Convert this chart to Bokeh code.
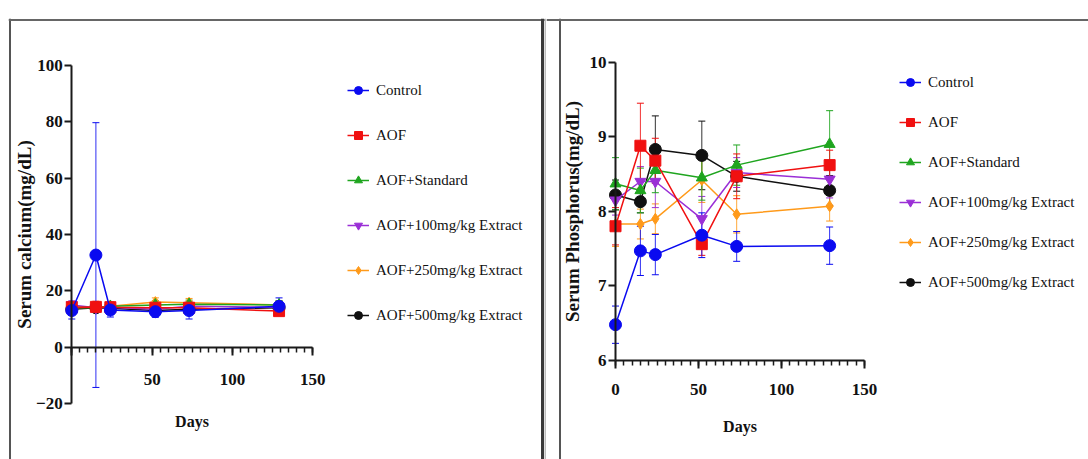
from bokeh.plotting import figure
from bokeh.models import (Range1d, FixedTicker, Legend, LegendItem, Whisker,
                          TeeHead, ColumnDataSource, Span)
from bokeh.layouts import row
from bokeh.embed import file_html
from bokeh.resources import INLINE

# ---------------- data ----------------
days = [0, 15, 24, 52, 73, 129]
series_names = ["Control", "AOF", "AOF+Standard", "AOF+100mg/kg Extract",
                "AOF+250mg/kg Extract", "AOF+500mg/kg Extract"]

# Serum calcium (mg/dL)
ca_control = [13.0, 32.7, 13.2, 12.6, 13.0, 14.5]
ca_aof = [14.2, 14.3, 14.2, 14.0, 14.0, 12.8]
ca_std = [14.2, 14.0, 14.5, 15.0, 15.2, 15.0]
ca_100 = [15.0, 14.0, 14.2, 13.5, 14.5, 14.2]
ca_250 = [14.0, 14.2, 14.5, 16.0, 15.8, 15.0]
ca_500 = [13.5, 14.0, 13.8, 13.0, 13.5, 14.0]
ca_control_err = [3.0, 47.0, 2.5, 2.0, 3.0, 3.0]
ca_aof_err = [1.5, 2.0, 1.5, 1.5, 1.5, 1.5]
ca_std_err = [1.5, 1.5, 1.5, 1.5, 1.5, 1.5]
ca_100_err = [1.5, 1.5, 1.5, 1.5, 1.5, 1.5]
ca_250_err = [1.5, 1.5, 1.5, 1.5, 1.5, 1.5]
ca_500_err = [1.5, 1.5, 1.5, 1.5, 1.5, 1.5]

# Serum phosphorus (mg/dL)
ph_control = [6.48, 7.47, 7.42, 7.68, 7.53, 7.54]
ph_aof = [7.80, 8.88, 8.68, 7.56, 8.47, 8.62]
ph_std = [8.37, 8.28, 8.55, 8.45, 8.62, 8.90]
ph_100 = [8.15, 8.40, 8.40, 7.90, 8.52, 8.43]
ph_250 = [7.83, 7.83, 7.90, 8.42, 7.96, 8.07]
ph_500 = [8.22, 8.13, 8.83, 8.75, 8.47, 8.28]
ph_control_err = [0.25, 0.33, 0.27, 0.30, 0.20, 0.25]
ph_aof_err = [0.25, 0.57, 0.30, 0.15, 0.30, 0.20]
ph_std_err = [0.35, 0.30, 0.30, 0.30, 0.27, 0.45]
ph_100_err = [0.20, 0.20, 0.35, 0.30, 0.20, 0.25]
ph_250_err = [0.30, 0.20, 0.20, 0.30, 0.25, 0.20]
ph_500_err = [0.20, 0.15, 0.45, 0.46, 0.20, 0.20]

colors = ["#0a0af0", "#f01010", "#1fa51f", "#9a2fd6", "#ff9a1a", "#101010"]
markers = ["circle", "square", "triangle", "inverted_triangle", "diamond", "circle"]
msizes = [12, 11, 11, 11, 11, 12]

SERIF = "Liberation Serif"


def panel(width, frame_left, frame_top, x0px, x150px, ylo, yhi, ylo_px, yhi_px,
          values, errors, ylabel, yticks, xlabel_zero, legend_pos, legend_spacing,
          border_left_px, border_top_px, border_right_px=None, sep_px=None,
          xaxis_at=0, xlab_standoff=14, xaxlab_standoff=22, ylab_standoff=4):
    H = 459
    sx = (x150px - x0px) / 150.0
    xs = (frame_left - x0px) / sx
    xe = (width - x0px) / sx
    sy = (ylo_px - yhi_px) / (yhi - ylo)
    ye = yhi + (yhi_px - frame_top) / sy
    ys = ylo - (H - ylo_px) / sy

    p = figure(width=width, height=H, output_backend="svg", toolbar_location=None,
               x_range=Range1d(xs, xe), y_range=Range1d(ys, ye),
               min_border_left=frame_left, min_border_right=0,
               min_border_top=frame_top, min_border_bottom=0)
    p.outline_line_color = None
    p.xgrid.visible = False
    p.ygrid.visible = False
    p.background_fill_color = "white"
    p.border_fill_color = "white"

    # axes
    xa = p.xaxis[0]
    ya = p.yaxis[0]
    xa.fixed_location = xaxis_at
    ya.fixed_location = 0
    xa.bounds = (0, 150)
    ya.bounds = (yticks[0], yticks[-1])
    xa.ticker = FixedTicker(ticks=[0, 50, 100, 150], minor_ticks=list(range(0, 151, 5)))
    ya.ticker = FixedTicker(ticks=yticks, minor_ticks=[])
    if not xlabel_zero:
        xa.major_label_overrides = {0: ""}
    for ax in (xa, ya):
        ax.axis_line_width = 2
        ax.axis_line_color = "#1a1a1a"
        ax.major_tick_line_width = 2
        ax.major_tick_line_color = "#1a1a1a"
        ax.minor_tick_line_width = 1.5
        ax.minor_tick_line_color = "#1a1a1a"
        ax.major_tick_in = 0
        ax.minor_tick_in = 0
        ax.major_label_text_font = SERIF
        ax.major_label_text_font_style = "bold"
        ax.major_label_text_font_size = "17px"
        ax.major_label_text_color = "#111111"
        ax.axis_label_text_font = SERIF
        ax.axis_label_text_font_style = "bold"
        ax.axis_label_text_color = "#111111"
    xa.major_tick_out = 8
    xa.minor_tick_out = 5
    ya.major_tick_out = 7
    ya.minor_tick_out = 0
    xa.major_label_standoff = xlab_standoff
    ya.major_label_standoff = 2
    xa.axis_label = "Days"
    xa.axis_label_text_font_size = "16px"
    xa.axis_label_standoff = xaxlab_standoff
    ya.axis_label = ylabel
    ya.axis_label_text_font_size = "19px"
    ya.axis_label_standoff = ylab_standoff

    # frame borders
    def px2x(px):
        return xs + (px - frame_left) / sx

    def py2y(py):
        return ye - (py - frame_top) / sy

    p.add_layout(Span(location=px2x(border_left_px), dimension="height",
                      line_color="#555555", line_width=2))
    p.add_layout(Span(location=py2y(border_top_px), dimension="width",
                      line_color="#666666", line_width=2))
    if border_right_px is not None:
        p.add_layout(Span(location=px2x(border_right_px), dimension="height",
                          line_color="#3a3a3a", line_width=3))
    if sep_px is not None:
        p.add_layout(Span(location=px2x(sep_px), dimension="height",
                          line_color="#bdbdbd", line_width=2))

    items = {}
    order = list(range(len(values)))[::-1]
    for i in order:
        c = colors[i]
        src = ColumnDataSource(dict(x=days, y=values[i],
                                    upper=[v + e for v, e in zip(values[i], errors[i])],
                                    lower=[v - e for v, e in zip(values[i], errors[i])]))
        w = Whisker(source=src, base="x", upper="upper", lower="lower",
                    line_color=c, line_width=1, line_alpha=0.85,
                    upper_head=TeeHead(size=7, line_color=c, line_width=1),
                    lower_head=TeeHead(size=7, line_color=c, line_width=1))
        p.add_layout(w)
        ln = p.line("x", "y", source=src, line_color=c, line_width=1.5)
        sc = p.scatter("x", "y", source=src, marker=markers[i], size=msizes[i],
                       fill_color=c, line_color=c)
        items[i] = LegendItem(label=series_names[i], renderers=[ln, sc])

    leg = Legend(items=[items[i] for i in range(len(values))],
                 location=legend_pos, orientation="vertical",
                 padding=0, margin=0, spacing=legend_spacing,
                 glyph_width=22, glyph_height=20, label_height=20,
                 label_standoff=7,
                 label_text_font=SERIF, label_text_font_size="15px",
                 label_text_color="#111111",
                 border_line_color=None, background_fill_alpha=0)
    p.add_layout(leg, "center")
    return p


p1 = panel(width=546, frame_left=8, frame_top=18, x0px=71.3, x150px=312.3,
           ylo=-20, yhi=100, ylo_px=403.0, yhi_px=65.0,
           values=[ca_control, ca_aof, ca_std, ca_100, ca_250, ca_500],
           errors=[ca_control_err, ca_aof_err, ca_std_err, ca_100_err, ca_250_err, ca_500_err],
           ylabel="Serum calcium(mg/dL)", yticks=[-20, 0, 20, 40, 60, 80, 100],
           xlabel_zero=False, legend_pos=(339, 134), legend_spacing=25,
           border_left_px=9.5, border_top_px=19.5, border_right_px=542, sep_px=545,
           xaxis_at=0, xlab_standoff=19, xaxlab_standoff=24, ylab_standoff=-2)

p2 = panel(width=542, frame_left=0, frame_top=18, x0px=69.0, x150px=318.0,
           ylo=6, yhi=10, ylo_px=360.0, yhi_px=61.7,
           values=[ph_control, ph_aof, ph_std, ph_100, ph_250, ph_500],
           errors=[ph_control_err, ph_aof_err, ph_std_err, ph_100_err, ph_250_err, ph_500_err],
           ylabel="Serum Phosphorus(mg/dL)", yticks=[6, 7, 8, 9, 10],
           xlabel_zero=True, legend_pos=(353, 167), legend_spacing=20,
           border_left_px=13.5, border_top_px=19.5,
           xaxis_at=6, xlab_standoff=15, xaxlab_standoff=20, ylab_standoff=4)

layout = row(p1, p2, spacing=0)
open("out.html", "w").write(file_html(layout, INLINE))
